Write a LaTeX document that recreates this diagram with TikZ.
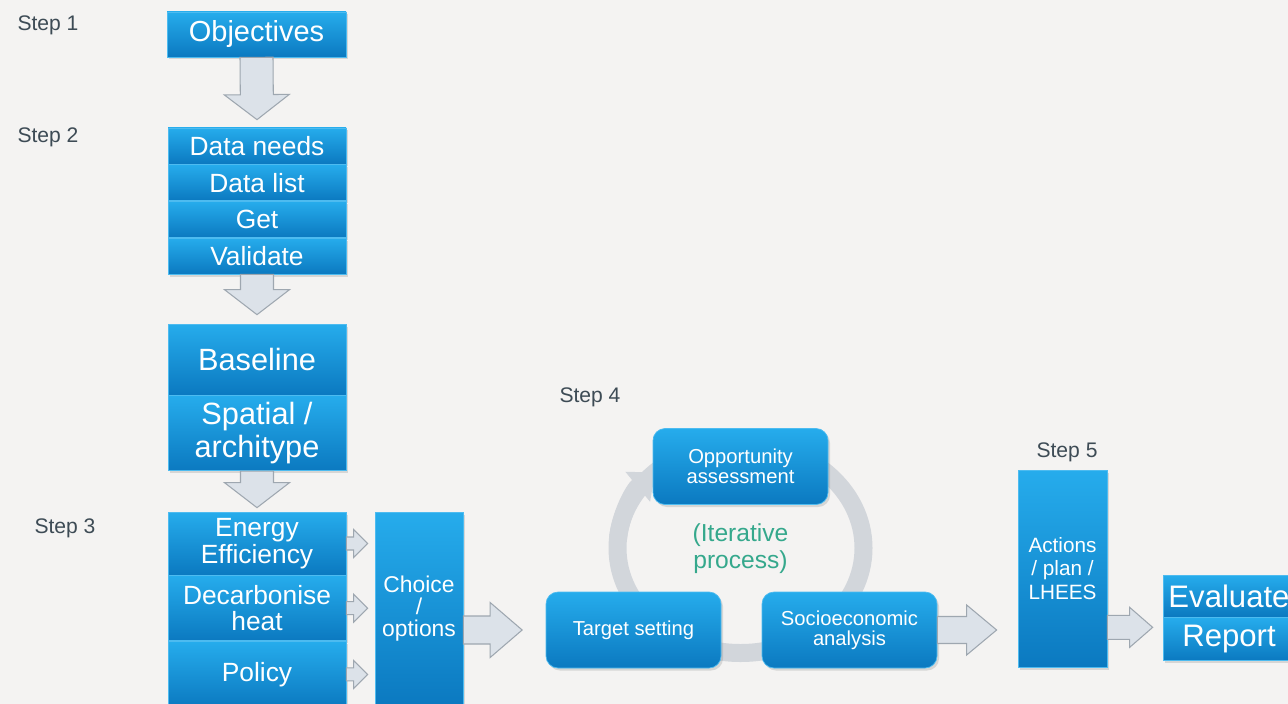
\documentclass[tikz,border=0pt]{standalone}
\usepackage{fontspec}
\setmainfont{Liberation Sans}
\usetikzlibrary{calc,positioning,shadows,arrows.meta}

\definecolor{bgcol}{HTML}{F4F3F2}
\definecolor{boxtop}{HTML}{26ACEC}
\definecolor{boxbot}{HTML}{0B79C0}
\definecolor{boxline}{HTML}{4DBBF0}
\definecolor{arrowfill}{HTML}{DCE2E9}
\definecolor{arrowedge}{HTML}{9EA7B0}
\definecolor{ringcol}{HTML}{D2D6DB}
\definecolor{steptxt}{HTML}{3D4B55}
\definecolor{itertxt}{HTML}{35A88C}

\tikzset{
    box/.style={rectangle,draw=boxline,line width=0.4pt,top color=boxtop,bottom color=boxbot,
        text=white,align=center,inner sep=0pt,
        drop shadow={shadow xshift=0.4mm,shadow yshift=-0.5mm,opacity=0.25}},
    stackbox/.style={box,minimum width=35.6mm,minimum height=7.2mm,font=\fontsize{15}{16}\selectfont},
    roundbox/.style={box,rounded corners=2.4mm,minimum width=35mm,minimum height=15.2mm,
        font=\fontsize{11.5}{11.5}\selectfont},
    steplabel/.style={text=steptxt,font=\fontsize{12}{14}\selectfont},
    ring/.style={draw=ringcol,line width=3.6mm},
    blockarrow/.style n args={3}{draw=arrowedge,fill=arrowfill,line width=0.6pt,
        to path={
            ($(\tikztostart)!#1!90:(\tikztotarget)$)
            -- ($($(\tikztotarget)!#3!(\tikztostart)$)!#1!90:(\tikztotarget)$)
            -- ($($(\tikztotarget)!#3!(\tikztostart)$)!#2!90:(\tikztotarget)$)
            -- (\tikztotarget)
            -- ($($(\tikztotarget)!#3!(\tikztostart)$)!#2!-90:(\tikztotarget)$)
            -- ($($(\tikztotarget)!#3!(\tikztostart)$)!#1!-90:(\tikztotarget)$)
            -- ($(\tikztostart)!#1!-90:(\tikztotarget)$) -- cycle}}
}

\begin{document}
\begin{tikzpicture}[x=0.2mm,y=-0.2mm]
    \path[use as bounding box,fill=bgcol] (0,0) rectangle (1288,704);

    % step labels
    \node[steplabel] (s1) at (48,25) {Step 1};
    \node[steplabel] (s2) at (48,137) {Step 2};
    \node[steplabel] (s3) at (65,528) {Step 3};
    \node[steplabel] (s4) at (590,397) {Step 4};
    \node[steplabel] (s5) at (1067,452) {Step 5};

    % left column
    \node[box,minimum width=35.8mm,minimum height=9mm,font=\fontsize{16.5}{18}\selectfont] (obj) at (256.5,34.5) {Objectives};

    \node[stackbox] (dneeds) at (257,146) {Data needs};
    \node[stackbox,below=0pt of dneeds] (dlist) {Data list};
    \node[stackbox,below=0pt of dlist] (get) {Get};
    \node[stackbox,below=0pt of get] (valid) {Validate};

    \node[box,minimum width=35.6mm,minimum height=14.2mm,font=\fontsize{17.5}{18.5}\selectfont] (base) at (257,359.5) {Baseline};
    \node[box,minimum width=35.6mm,minimum height=15mm,font=\fontsize{17.5}{18.5}\selectfont,below=0pt of base] (spatial) {Spatial /\\architype};

    \node[box,minimum width=35.6mm,minimum height=12.6mm,font=\fontsize{15}{15}\selectfont] (ee) at (257,543.5) {Energy\\Efficiency};
    \node[box,minimum width=35.6mm,minimum height=13mm,font=\fontsize{15}{15}\selectfont,below=0pt of ee] (dh) {Decarbonise\\heat};
    \node[box,minimum width=35.6mm,minimum height=13.2mm,font=\fontsize{15}{15}\selectfont,below=0pt of dh] (pol) {Policy};

    \node[box,minimum width=17.6mm,minimum height=38.8mm,font=\fontsize{13}{12.5}\selectfont] (choice) at (419,609) {Choice\\/\\options};

    \draw[blockarrow={3.3mm}{6.5mm}{5mm}] (obj.south) to ([yshift=1.6mm]dneeds.north);
    \draw[blockarrow={3.3mm}{6.5mm}{5mm}] (valid.south) to ([yshift=1.8mm]base.north);
    \draw[blockarrow={3.3mm}{6.5mm}{5mm}] (spatial.south) to ([yshift=0.8mm]ee.north);
    \foreach \n in {ee,dh,pol}
        \draw[blockarrow={1.3mm}{2.8mm}{2.8mm}] (\n.east) to ([xshift=-1.4mm]choice.west |- \n.east);

    % iterative cycle
    \coordinate (cyc) at (740.5,548);
    \draw[ring] (cyc) ellipse [x radius=24.6mm,y radius=21mm];
    \draw[ring,-{Triangle[width=7.5mm,length=4.5mm]}] ([shift={(175:24.6mm and 21mm)}]cyc)
        arc[start angle=175,end angle=134,x radius=24.6mm,y radius=21mm];

    \node[roundbox] (opp) at (740.5,466.5) {Opportunity\\assessment};
    \node[roundbox] (target) at (633.5,630) {Target setting};
    \node[roundbox] (socio) at (849.5,630) {Socioeconomic\\analysis};
    \node[text=itertxt,align=center,font=\fontsize{14}{15.4}\selectfont] (iter) at (740.5,549) {(Iterative\\process)};

    \draw[blockarrow={2.8mm}{5.5mm}{6.4mm}] (choice.east |- target.west) to ([xshift=-4.7mm]target.west);

    % step 5
    \node[box,minimum width=17.8mm,minimum height=39.4mm,font=\fontsize{11.8}{13.6}\selectfont] (actions) at (1062.5,568.5) {Actions\\/ plan /\\LHEES};
    \node[box,minimum width=26.4mm,minimum height=8.4mm,font=\fontsize{17.7}{18}\selectfont] (eval) at (1229,596) {Evaluate};
    \node[box,minimum width=26.4mm,minimum height=8.6mm,font=\fontsize{17.7}{18}\selectfont,below=0pt of eval] (report) {Report};

    \draw[blockarrow={2.7mm}{5mm}{6mm}] (socio.east) to ([xshift=-4.2mm]actions.west |- socio.east);
    \draw[blockarrow={2.4mm}{4mm}{4.6mm}] ([yshift=-2mm]actions.east |- eval.south) to ([xshift=-2mm,yshift=-2mm]eval.south west);
\end{tikzpicture}
\end{document}
